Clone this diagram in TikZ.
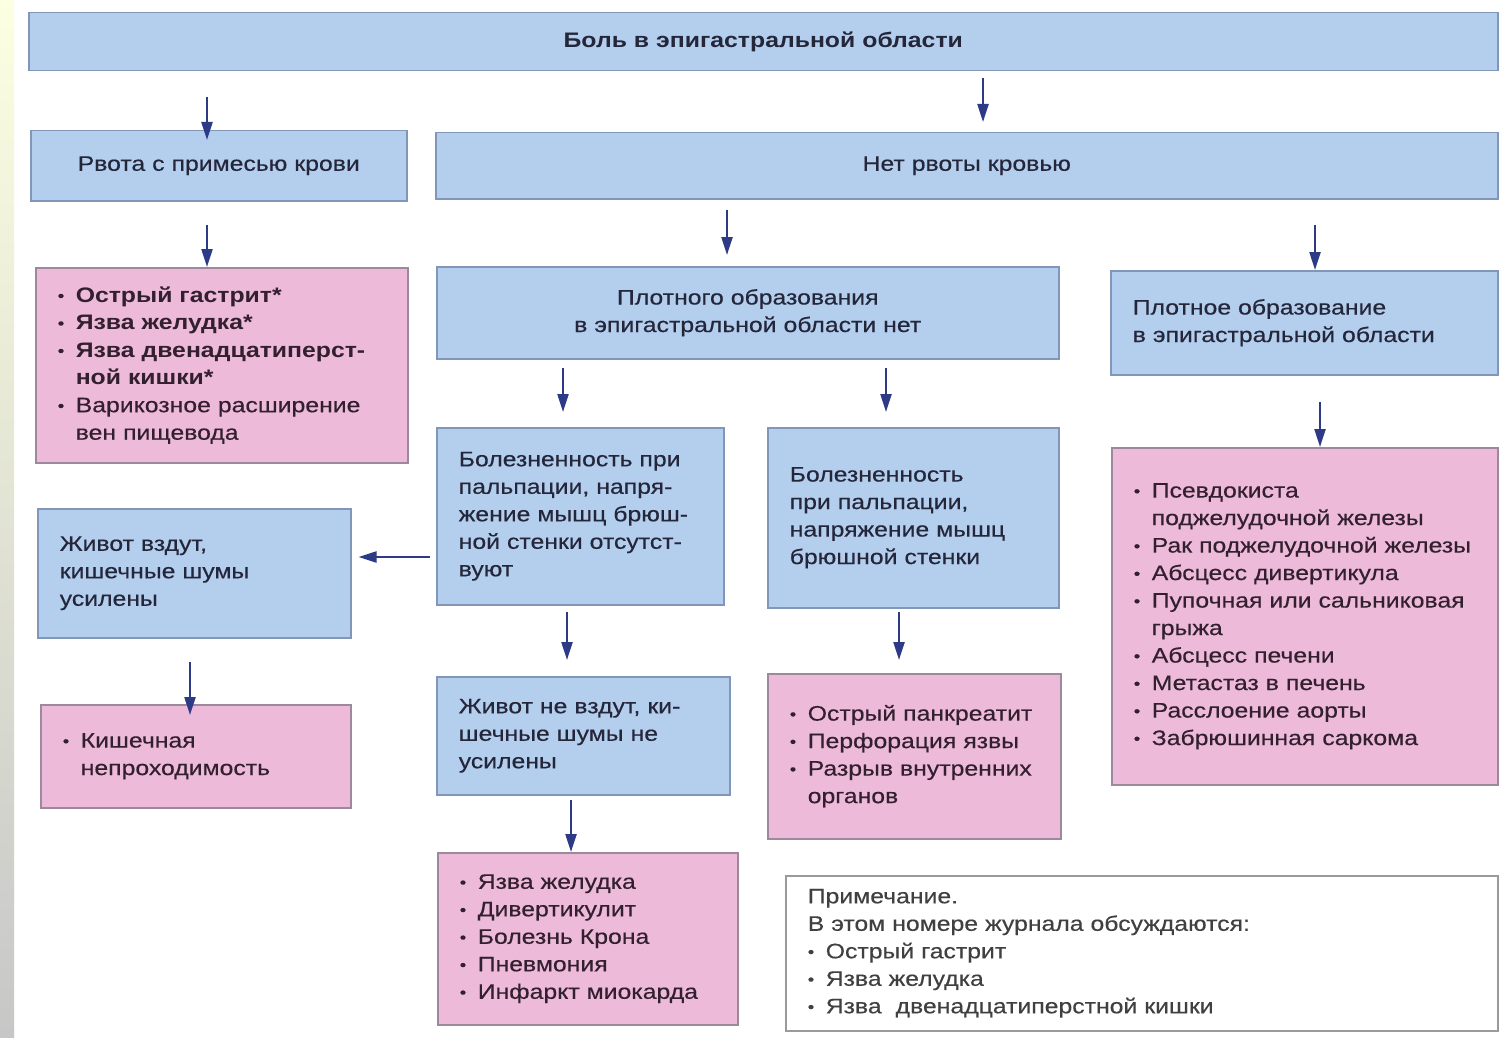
\documentclass[tikz,border=0pt]{standalone}
\usepackage{fontspec}
\setmainfont{Liberation Sans}[FakeStretch=1.18, UprightFeatures={FakeBold=0.35}]
\usetikzlibrary{arrows.meta}
\definecolor{bfill}{HTML}{B4CEEE}
\definecolor{bdraw}{HTML}{8296BA}
\definecolor{pfill}{HTML}{EDBADA}
\definecolor{pdraw}{HTML}{9C8A9C}
\definecolor{txt}{HTML}{24263A}
\definecolor{ptxt}{HTML}{33202E}
\definecolor{arrc}{HTML}{2D3A86}
\definecolor{ndraw}{HTML}{9A9A9A}
\newcommand\mybul{\raisebox{1pt}{\scalebox{0.75}{•}}}
\newcommand\itm{\makebox[18pt][l]{\mybul}}
\newcommand\cnt{\hspace*{18pt}}
\newcommand\fs{\fontsize{21}{27.5}\selectfont}
\tikzset{
  base/.style={line width=1.5pt, inner xsep=22pt, inner ysep=0pt, anchor=north west, font=\fs, text=txt, align=left},
  bluebox/.style={base, fill=bfill, draw=bdraw},
  pinkbox/.style={base, fill=pfill, draw=pdraw, text=ptxt},
  notebox/.style={base, fill=white, draw=ndraw, text=black!75},
  arr/.style={-{Triangle[length=18pt,width=11pt]}, line width=2.2pt, draw=arrc},
}
\begin{document}
\begin{tikzpicture}[x=1pt,y=-1pt]
\useasboundingbox (0,0) rectangle (1499,1038);
\fill[white] (0,0) rectangle (1499,1038);
\shade[top color=green!10!yellow!12, bottom color=black!22] (0,0) rectangle (14,1038);

\node[bluebox, align=center, text width=1425pt, minimum height=58pt, font=\fs\bfseries] (top) at (28,12) {Боль в эпигастральной области};
\node[bluebox, align=center, text width=332pt, minimum height=70pt] (rv) at (30,130) {Рвота с примесью крови};
\node[bluebox, align=center, text width=1018pt, minimum height=66pt] (net) at (435,132) {Нет рвоты кровью};
\node[pinkbox, text width=328pt, minimum height=195pt] (p1) at (35,267) {%
\itm\textbf{Острый гастрит*}\\\itm\textbf{Язва желудка*}\\\itm\textbf{Язва двенадцатиперст-}\\\cnt\textbf{ной кишки*}\\\itm Варикозное расширение\\\cnt вен пищевода};
\node[bluebox, align=center, text width=578pt, minimum height=92pt] (pn) at (436,266) {Плотного образования\\в эпигастральной области нет};
\node[bluebox, text width=343pt, minimum height=104pt] (po) at (1110,270) {Плотное образование\\в эпигастральной области};
\node[bluebox, text width=243pt, minimum height=177pt] (b1) at (436,427) {Болезненность при\\пальпации, напря-\\жение мышц брюш-\\ной стенки отсутст-\\вуют};
\node[bluebox, text width=247pt, minimum height=180pt] (b2) at (767,427) {Болезненность\\при пальпации,\\напряжение мышц\\брюшной стенки};
\node[bluebox, text width=269pt, minimum height=129pt] (zv) at (37,508) {Живот вздут,\\кишечные шумы\\усилены};
\node[pinkbox, text width=266pt, minimum height=103pt] (kn) at (40,704) {\itm Кишечная\\\cnt непроходимость};
\node[bluebox, text width=249pt, minimum height=118pt] (znv) at (436,676) {Живот не вздут, ки-\\шечные шумы не\\усилены};
\node[pinkbox, text width=249pt, minimum height=165pt] (p3) at (767,673) {%
\itm Острый панкреатит\\\itm Перфорация язвы\\\itm Разрыв внутренних\\\cnt органов};
\node[pinkbox, text width=342pt, minimum height=337pt] (p4) at (1111,447) {%
\itm Псевдокиста\\\cnt поджелудочной железы\\\itm Рак поджелудочной железы\\\itm Абсцесс дивертикула\\\itm Пупочная или сальниковая\\\cnt грыжа\\\itm Абсцесс печени\\\itm Метастаз в печень\\\itm Расслоение аорты\\\itm Забрюшинная саркома};
\node[pinkbox, text width=256pt, minimum height=172pt] (p5) at (437,852) {%
\itm Язва желудка\\\itm Дивертикулит\\\itm Болезнь Крона\\\itm Пневмония\\\itm Инфаркт миокарда};
\node[notebox, text width=668pt, minimum height=155pt] (note) at (785,875) {%
Примечание.\\В этом номере журнала обсуждаются:\\\itm Острый гастрит\\\itm Язва желудка\\\itm Язва~ двенадцатиперстной кишки};

\coordinate (a1) at (207,97);
\coordinate (a2) at (983,78);
\coordinate (a3) at (207,225);
\coordinate (a4) at (727,210);
\coordinate (a5) at (1315,225);
\coordinate (a6) at (563,368);
\coordinate (a7) at (886,368);
\coordinate (a8) at (430,557);
\coordinate (a9) at (190,662);
\coordinate (a10) at (567,612);
\coordinate (a11) at (899,612);
\coordinate (a12) at (1320,402);
\coordinate (a13) at (571,800);

\draw[arr, shorten >=-10pt] (a1) -- (a1 |- rv.north);
\draw[arr, shorten >=10pt] (a2) -- (a2 |- net.north);
\draw[arr] (a3) -- (a3 |- p1.north);
\draw[arr, shorten >=11pt] (a4) -- (a4 |- pn.north);
\draw[arr] (a5) -- (a5 |- po.north);
\draw[arr, shorten >=15pt] (a6) -- (a6 |- b1.north);
\draw[arr, shorten >=15pt] (a7) -- (a7 |- b2.north);
\draw[arr, shorten >=7pt] (a8) -- (a8 -| zv.east);
\draw[arr, shorten >=-11pt] (a9) -- (a9 |- kn.north);
\draw[arr, shorten >=16pt] (a10) -- (a10 |- znv.north);
\draw[arr, shorten >=13pt] (a11) -- (a11 |- p3.north);
\draw[arr] (a12) -- (a12 |- p4.north);
\draw[arr] (a13) -- (a13 |- p5.north);
\end{tikzpicture}
\end{document}
